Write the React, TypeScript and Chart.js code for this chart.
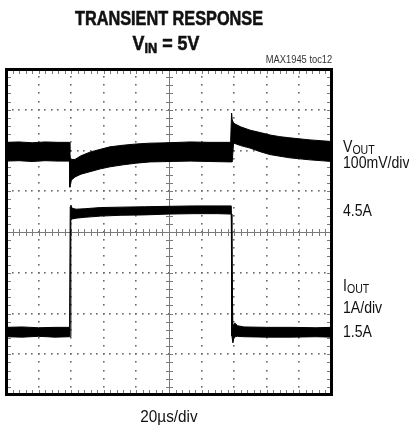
import React, { useEffect, useRef } from "react";
import { Chart, registerables } from "chart.js";

Chart.register(...registerables);

// ---- axis divisions (20 µs/div, 1 A/div, 100 mV/div) ----
const X_DIVS = [0, 20, 40, 60, 80, 100, 120, 140, 160, 180, 200]; // µs
const Y_DIVS = [0, 1, 2, 3, 4, 5, 6, 7, 8]; // A (IOUT scale)
const X_CENTER = 100;
const Y_CENTER = 4;

// ---- VOUT trace envelope (mV, AC coupled, 0 mV at 6th division) ----
const vTime = [0, 8, 16, 24, 32, 38.9, 39.2, 39.5, 40.3, 42.3, 46, 51.5, 58, 63.8, 72, 80, 88.3, 100, 113, 125, 137.8, 138.4, 138.8, 139.6, 140.5, 144, 149.7, 156, 162, 168, 174.2, 186.5, 200];
const vUpper = [20, 21, 19, 21, 20, 20, -5, -20, -22, -22, -13, -4, 3, 9, 13, 16, 18, 19, 21, 20, 20, 92, 75, 68, 65, 58, 50, 44, 38, 34, 31, 26, 22];
const vLower = [-26, -25, -27, -25, -26, -26, -90, -80, -72, -65, -58, -52, -45, -40, -35, -31, -28, -27, -26, -27, -28, -28, -28, 18, 17, 12, 6, -3, -10, -14, -18, -23, -27];

// ---- IOUT trace envelope (A) ----
const iTime = [0, 10, 20, 30, 39.0, 39.4, 39.8, 40.6, 43, 48, 58, 70, 85, 100, 115, 130, 138.2, 138.6, 139.2, 139.8, 140.6, 142, 146, 160, 175, 190, 200];
const iUpper = [1.66, 1.67, 1.65, 1.66, 1.66, 4.62, 4.66, 4.58, 4.56, 4.57, 4.6, 4.61, 4.62, 4.63, 4.64, 4.64, 4.64, 4.64, 1.6, 1.74, 1.76, 1.7, 1.67, 1.66, 1.66, 1.65, 1.66];
const iLower = [1.43, 1.42, 1.44, 1.42, 1.43, 1.43, 4.3, 4.32, 4.34, 4.36, 4.39, 4.41, 4.42, 4.44, 4.45, 4.45, 4.44, 1.45, 1.28, 1.4, 1.43, 1.44, 1.43, 1.42, 1.42, 1.43, 1.42];

const toPts = (xs: number[], ys: number[]) => xs.map((x, i) => ({ x, y: ys[i] }));

const scopeGrid = {
  id: "scopeGrid",
  beforeDatasetsDraw(chart: any) {
    const { ctx, chartArea: a } = chart;
    const xs = chart.scales.x;
    const ys = chart.scales.yI;
    const xMinor: number[] = [];
    for (let i = 0; i < X_DIVS.length - 1; i++) {
      const s = X_DIVS[i], e = X_DIVS[i + 1];
      for (let k = 0; k < 5; k++) xMinor.push(s + ((e - s) * k) / 5);
    }
    xMinor.push(X_DIVS[X_DIVS.length - 1]);
    const yMinor: number[] = [];
    for (let i = 0; i < Y_DIVS.length - 1; i++) {
      const s = Y_DIVS[i], e = Y_DIVS[i + 1];
      for (let k = 0; k < 5; k++) yMinor.push(s + ((e - s) * k) / 5);
    }
    yMinor.push(Y_DIVS[Y_DIVS.length - 1]);

    ctx.save();
    // dotted grid
    ctx.fillStyle = "#6a6a6a";
    for (const t of X_DIVS) {
      if (t === X_CENTER || t === X_DIVS[0] || t === X_DIVS[X_DIVS.length - 1]) continue;
      const px = Math.round(xs.getPixelForValue(t));
      for (const v of yMinor) {
        const py = Math.round(ys.getPixelForValue(v));
        ctx.fillRect(px - 1, py - 1, 1.6, 1.6);
      }
    }
    for (const v of Y_DIVS) {
      if (v === Y_CENTER || v === Y_DIVS[0] || v === Y_DIVS[Y_DIVS.length - 1]) continue;
      const py = Math.round(ys.getPixelForValue(v));
      for (const t of xMinor) {
        const px = Math.round(xs.getPixelForValue(t));
        ctx.fillRect(px - 1, py - 1, 1.6, 1.6);
      }
    }
    // centre cross with minor ticks
    ctx.strokeStyle = "#7a7a7a";
    ctx.lineWidth = 1;
    const cx = Math.round(xs.getPixelForValue(X_CENTER)) + 0.5;
    const cy = Math.round(ys.getPixelForValue(Y_CENTER)) + 0.5;
    ctx.beginPath();
    ctx.moveTo(cx, a.top);
    ctx.lineTo(cx, a.bottom);
    ctx.moveTo(a.left, cy);
    ctx.lineTo(a.right, cy);
    for (const v of yMinor) {
      const py = Math.round(ys.getPixelForValue(v)) + 0.5;
      ctx.moveTo(cx - 3.5, py);
      ctx.lineTo(cx + 3.5, py);
      // border ticks left/right
      ctx.moveTo(a.left, py);
      ctx.lineTo(a.left + 5, py);
      ctx.moveTo(a.right - 5, py);
      ctx.lineTo(a.right, py);
    }
    for (const t of xMinor) {
      const px = Math.round(xs.getPixelForValue(t)) + 0.5;
      ctx.moveTo(px, cy - 3.5);
      ctx.lineTo(px, cy + 3.5);
      ctx.moveTo(px, a.top);
      ctx.lineTo(px, a.top + 5);
      ctx.moveTo(px, a.bottom - 5);
      ctx.lineTo(px, a.bottom);
    }
    ctx.stroke();
    ctx.restore();
  },
  afterDatasetsDraw(chart: any) {
    const { ctx, chartArea: a } = chart;
    ctx.save();
    ctx.strokeStyle = "#000";
    ctx.lineWidth = 3;
    ctx.strokeRect(a.left + 0.5, a.top + 0.5, a.right - a.left - 1, a.bottom - a.top - 1);
    ctx.restore();
  },
};

type LabelProps = {
  x: number;
  baseline: number;
  size: number;
  scale?: number;
  align?: "left" | "center" | "right";
  weight?: number;
  color?: string;
  stroke?: number;
  children: React.ReactNode;
};

function Label({ x, baseline, size, scale = 1, align = "left", weight = 400, color = "#111", stroke = 0, children }: LabelProps) {
  const top = baseline - 0.8465 * size;
  const style: React.CSSProperties = {
    position: "absolute",
    top,
    fontSize: size,
    lineHeight: `${size}px`,
    fontWeight: weight,
    color,
    whiteSpace: "nowrap",
    fontFamily: '"Liberation Sans", Arial, sans-serif',
    WebkitTextStroke: stroke ? `${stroke}px ${color}` : undefined,
  };
  if (align === "left") {
    style.left = x;
    style.transformOrigin = "left center";
    style.transform = `scaleX(${scale})`;
  } else if (align === "right") {
    style.right = 409 - x;
    style.transformOrigin = "right center";
    style.transform = `scaleX(${scale})`;
  } else {
    style.left = x;
    style.transformOrigin = "center center";
    style.transform = `translateX(-50%) scaleX(${scale})`;
  }
  return <div style={style}>{children}</div>;
}

function Sub({ size, shift, children }: { size: number; shift: number; children: React.ReactNode }) {
  return (
    <span style={{ fontSize: size, lineHeight: 0, position: "relative", top: shift }}>{children}</span>
  );
}

export default function App() {
  const ref = useRef<HTMLCanvasElement | null>(null);
  useEffect(() => {
    if (!ref.current) return;
    const chart = new Chart(ref.current, {
      type: "line",
      data: {
        datasets: [
          { data: toPts(vTime, vUpper), yAxisID: "yV", borderColor: "#000", backgroundColor: "#000", borderWidth: 1, fill: "+1", pointRadius: 0 },
          { data: toPts(vTime, vLower), yAxisID: "yV", borderColor: "#000", backgroundColor: "#000", borderWidth: 1, fill: false, pointRadius: 0 },
          { data: toPts(iTime, iUpper), yAxisID: "yI", borderColor: "#000", backgroundColor: "#000", borderWidth: 1, fill: "+1", pointRadius: 0 },
          { data: toPts(iTime, iLower), yAxisID: "yI", borderColor: "#000", backgroundColor: "#000", borderWidth: 1, fill: false, pointRadius: 0 },
        ],
      },
      options: {
        responsive: false,
        animation: false,
        events: [],
        layout: { padding: { left: 6, top: 69, right: 77, bottom: 34 } },
        scales: {
          x: { type: "linear", min: X_DIVS[0], max: X_DIVS[X_DIVS.length - 1], display: false },
          yV: { type: "linear", min: -600, max: 200, display: false },
          yI: { type: "linear", min: Y_DIVS[0], max: Y_DIVS[Y_DIVS.length - 1], display: false },
        },
        elements: { line: { tension: 0 }, point: { radius: 0 } },
        plugins: { legend: { display: false }, tooltip: { enabled: false }, title: { display: false } },
      },
      plugins: [scopeGrid as any],
    });
    return () => chart.destroy();
  }, []);

  return (
    <div style={{ position: "fixed", left: 0, top: 0, width: 409, height: 429, background: "#fff", overflow: "hidden" }}>
      <canvas ref={ref} width={409} height={429} style={{ position: "absolute", left: 0, top: 0, width: 409, height: 429 }} />
      <Label x={169} baseline={25} size={21} scale={0.775} align="center" weight={700} stroke={0.6}>
        TRANSIENT RESPONSE
      </Label>
      <Label x={166} baseline={50} size={21} scale={0.85} align="center" weight={700} stroke={0.6}>
        V<Sub size={15} shift={3}>IN</Sub> = 5V
      </Label>
      <Label x={332} baseline={63} size={11} scale={0.85} align="right" color="#333">
        MAX1945 toc12
      </Label>
      <Label x={343} baseline={153} size={16} scale={0.88}>
        V<Sub size={12} shift={2}>OUT</Sub>
      </Label>
      <Label x={343} baseline={169} size={16} scale={0.88}>
        100mV/div
      </Label>
      <Label x={343} baseline={217} size={16} scale={0.88}>
        4.5A
      </Label>
      <Label x={343} baseline={292} size={16} scale={0.88}>
        I<Sub size={12} shift={2}>OUT</Sub>
      </Label>
      <Label x={343} baseline={314} size={16} scale={0.88}>
        1A/div
      </Label>
      <Label x={343} baseline={338} size={16} scale={0.88}>
        1.5A
      </Label>
      <Label x={169} baseline={422} size={17} scale={0.9} align="center">
        20µs/div
      </Label>
    </div>
  );
}
